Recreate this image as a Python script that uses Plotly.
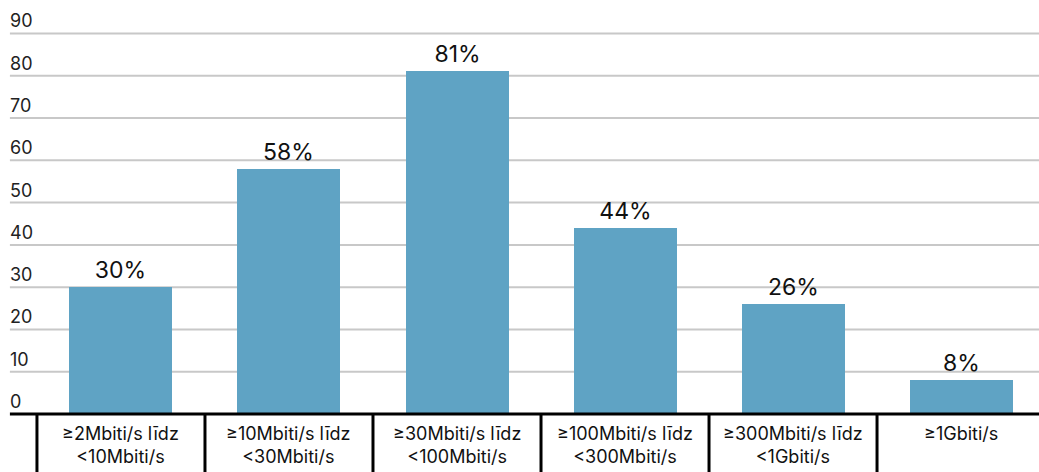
import plotly.graph_objects as go

# Broadband speed categories and share of coverage (%)
categories = [
    "≥2Mbiti/s līdz<br>&lt;10Mbiti/s",
    "≥10Mbiti/s līdz<br>&lt;30Mbiti/s",
    "≥30Mbiti/s līdz<br>&lt;100Mbiti/s",
    "≥100Mbiti/s līdz<br>&lt;300Mbiti/s",
    "≥300Mbiti/s līdz<br>&lt;1Gbiti/s",
    "≥1Gbiti/s",
]
values = [30, 58, 81, 44, 26, 8]
y_ticks = [0, 10, 20, 30, 40, 50, 60, 70, 80, 90]

BAR_COLOR = "#5fa3c4"
GRID_COLOR = "#c8c8c8"
FONT = "Inter"

x_pos = list(range(len(categories)))
x_range = [-0.720, 5.464]
grid_start = -0.661
y_range = [-13.7, 97.9]

fig = go.Figure()
fig.add_trace(go.Bar(
    x=x_pos,
    y=values,
    width=0.613,
    marker=dict(color=BAR_COLOR, line=dict(width=0)),
    text=[f"{v}%" for v in values],
    textposition="outside",
    textfont=dict(family=FONT, size=23, color="#111111"),
    cliponaxis=False,
    hoverinfo="skip",
))

shapes = []
# horizontal gridlines
for t in y_ticks[1:]:
    shapes.append(dict(type="line", xref="x", yref="y",
                       x0=grid_start, x1=x_range[1], y0=t, y1=t,
                       line=dict(color=GRID_COLOR, width=2), layer="below"))
# baseline
shapes.append(dict(type="line", xref="x", yref="y",
                   x0=grid_start, x1=x_range[1], y0=0, y1=0,
                   line=dict(color="black", width=3), layer="above"))
# category separators under the baseline
for i in range(len(categories)):
    shapes.append(dict(type="line", xref="x", yref="y",
                       x0=i - 0.5, x1=i - 0.5, y0=0, y1=y_range[0],
                       line=dict(color="black", width=3), layer="above"))

annotations = []
# y tick labels sitting above their gridlines
for t in y_ticks:
    annotations.append(dict(x=grid_start, y=t, xref="x", yref="y",
                            text=str(t), showarrow=False,
                            xanchor="left", yanchor="bottom", yshift=0, xshift=-2,
                            font=dict(family=FONT, size=18, color="#222222")))
# category labels in the table row
for i, c in enumerate(categories):
    annotations.append(dict(x=i, y=0, xref="x", yref="y",
                            text=c, showarrow=False,
                            xanchor="center", yanchor="top", yshift=-7,
                            font=dict(family=FONT, size=18, color="#111111")))

fig.update_layout(
    width=1039, height=472,
    margin=dict(l=0, r=0, t=0, b=0),
    paper_bgcolor="white", plot_bgcolor="white",
    showlegend=False,
    bargap=0,
    xaxis=dict(range=x_range, visible=False, fixedrange=True),
    yaxis=dict(range=y_range, visible=False, fixedrange=True),
    shapes=shapes,
    annotations=annotations,
)

fig.write_html("out.html")
